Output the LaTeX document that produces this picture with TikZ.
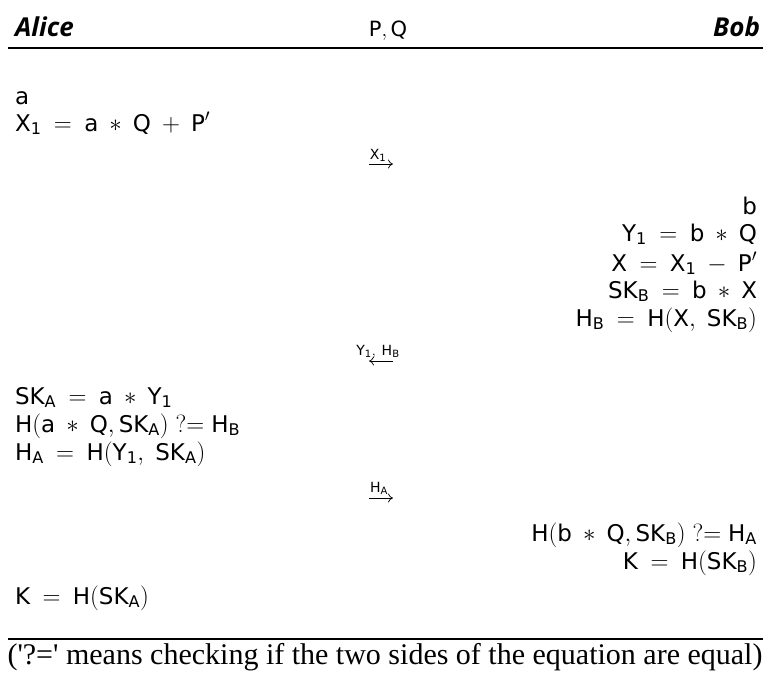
\documentclass[tikz,border=0pt]{standalone}
\usepackage{amsmath}
\usepackage{fontspec}
\setmathrm{DejaVu Sans}
\newfontfamily\footfont{Liberation Serif}
\newfontfamily\hdrfont{Open Sans}
\usetikzlibrary{arrows.meta}
\newcommand{\wideops}{\thickmuskip=9mu plus 2mu\medmuskip=8mu plus 2mu}
\newcommand{\lowprime}{\raisebox{-3pt}{$'$}}
\tikzset{
  every node/.style={inner sep=0pt, outer sep=0pt, font=\fontsize{23}{27}\selectfont\wideops},
  lft/.style={anchor=base west},
  rgt/.style={anchor=base east},
  msglabel/.style={anchor=base, font=\fontsize{20}{24}\selectfont},
  msgarrow/.style={line width=0.7pt},
  hdr/.style={anchor=base, font=\fontsize{26}{29}\selectfont\hdrfont\bfseries\itshape},
  rule/.style={line width=1.2pt},
}
\begin{document}
\begin{tikzpicture}[x=1pt,y=-1pt]
\useasboundingbox (0,0) rectangle (770,673);
% header
\node[hdr, anchor=base west] (alice) at (15,36) {Alice};
\node[anchor=base, font=\fontsize{21}{24}\selectfont] (pq) at (388,36) {$\mathrm{P,Q}$};
\node[hdr, anchor=base east] (bob) at (760,36) {Bob};
\coordinate (tl) at (8,48);
\coordinate (tr) at (763,48);
\draw[rule] (tl) -- (tr);
% Alice first
\node[lft] (a1) at (15,104) {$\mathrm{a}$};
\node[lft] (a2) at (15,131) {$\mathrm{X_1 = a * Q + P}\lowprime$};
% message 1
\node[msglabel] (l1) at (378,159) {$\scriptstyle\mathrm{X_1}$};
\coordinate (s1) at (369,164);
\coordinate (e1) at (393,164);
\draw[msgarrow,-{To[length=5pt,width=9pt]}] (s1) -- (e1);
% Bob
\node[rgt] (b1) at (757,214) {$\mathrm{b}$};
\node[rgt] (b2) at (757,241) {$\mathrm{Y_1 = b * Q}$};
\node[rgt] (b3) at (757,271) {$\mathrm{X = X_1 - P}\lowprime$};
\node[rgt] (b4) at (757,298) {$\mathrm{SK_B = b * X}$};
\node[rgt] (b5) at (757,326) {$\mathrm{H_B = H(X,\ SK_B)}$};
% message 2
\node[msglabel] (l2) at (378,355) {$\scriptstyle\mathrm{Y_1,\ H_B}$};
\coordinate (s2) at (393,361);
\coordinate (e2) at (369,361);
\draw[msgarrow,-{To[length=5pt,width=9pt]}] (s2) -- (e2);
% Alice second
\node[lft] (a3) at (15,404) {$\mathrm{SK_A = a * Y_1}$};
\node[lft] (a4) at (15,432) {$\mathrm{H(a * Q, SK_A)\ {?}{=}\ H_B}$};
\node[lft] (a5) at (15,460) {$\mathrm{H_A = H(Y_1,\ SK_A)}$};
% message 3
\node[msglabel] (l3) at (379,492) {$\scriptstyle\mathrm{H_A}$};
\coordinate (s3) at (369,498);
\coordinate (e3) at (393,498);
\draw[msgarrow,-{To[length=5pt,width=9pt]}] (s3) -- (e3);
% Bob second
\node[rgt] (b6) at (757,541) {$\mathrm{H(b * Q, SK_B)\ {?}{=}\ H_A}$};
\node[rgt] (b7) at (757,569) {$\mathrm{K = H(SK_B)}$};
% Alice final
\node[lft] (a6) at (15,604) {$\mathrm{K = H(SK_A)}$};
% footer
\coordinate (bl) at (8,639);
\coordinate (br) at (763,639);
\draw[rule] (bl) -- (br);
\node[anchor=base, font=\fontsize{30}{33}\footfont] (foot) at (385,664) {('?=' means checking if the two sides of the equation are equal)};
\end{tikzpicture}
\end{document}
